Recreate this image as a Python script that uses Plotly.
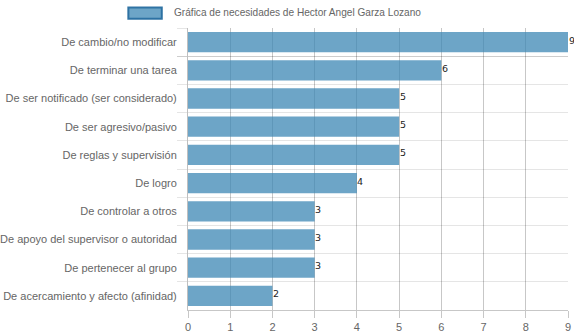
import plotly.graph_objects as go

categorias = [
    "De cambio/no modificar",
    "De terminar una tarea",
    "De ser notificado (ser considerado)",
    "De ser agresivo/pasivo",
    "De reglas y supervisión",
    "De logro",
    "De controlar a otros",
    "De apoyo del supervisor o autoridad",
    "De pertenecer al grupo",
    "De acercamiento y afecto (afinidad)",
]
valores = [9, 6, 5, 5, 5, 4, 3, 3, 3, 2]
titulo_serie = "Gráfica de necesidades de Hector Angel Garza Lozano"
ticks_x = [0, 1, 2, 3, 4, 5, 6, 7, 8, 9]

relleno = "rgba(60,135,180,0.75)"
borde = "rgba(40,110,160,0.95)"
fuente = "Liberation Sans, Arial, sans-serif"

fig = go.Figure(
    go.Bar(
        x=valores,
        y=categorias,
        orientation="h",
        marker=dict(color=relleno, line=dict(width=0)),
        showlegend=False,
        hoverinfo="x+y",
    )
)

# value labels just past the end of each bar
etiquetas = [
    dict(
        x=v, y=c, xref="x", yref="y", text=str(v),
        xanchor="left", yanchor="middle", xshift=-0.5, yshift=2,
        showarrow=False, borderpad=0,
        font=dict(family="DejaVu Sans, sans-serif", size=9.5, color="#222"),
    )
    for c, v in zip(categorias, valores)
]

leyenda = dict(
    text=titulo_serie, xref="paper", yref="paper",
    x=-0.042, y=1.055, xanchor="left", yanchor="middle",
    showarrow=False, font=dict(family=fuente, size=10.1, color="#666"),
)

fig.update_layout(
    width=574,
    height=334,
    margin=dict(l=188, r=6, t=28, b=24, autoexpand=False),
    paper_bgcolor="white",
    plot_bgcolor="white",
    bargap=0.28,
    font=dict(family=fuente, size=11, color="#666"),
    shapes=[
        dict(
            type="rect", xref="paper", yref="paper",
            x0=-0.157, x1=-0.069, y0=1.033, y1=1.073,
            fillcolor=relleno, line=dict(color=borde, width=2),
        )
    ],
    annotations=etiquetas + [leyenda],
)

fig.update_xaxes(
    range=[0, 9],
    tickvals=ticks_x,
    showgrid=True,
    gridcolor="rgba(0,0,0,0.22)",
    gridwidth=1,
    zeroline=False,
    showline=True,
    linecolor="rgba(0,0,0,0.22)",
    ticks="outside",
    ticklen=7,
    tickcolor="rgba(0,0,0,0.22)",
    tickfont=dict(family=fuente, size=11, color="#666"),
    automargin=False,
)

fig.update_yaxes(
    type="category",
    autorange="reversed",
    tickson="boundaries",
    showgrid=True,
    gridcolor="rgba(0,0,0,0.1)",
    showline=True,
    linecolor="rgba(0,0,0,0.25)",
    ticks="outside",
    ticklen=10,
    tickcolor="rgba(0,0,0,0.1)",
    ticklabelstandoff=8,
    tickfont=dict(family=fuente, size=11, color="#666"),
    automargin=False,
)

fig.write_html("out.html")
